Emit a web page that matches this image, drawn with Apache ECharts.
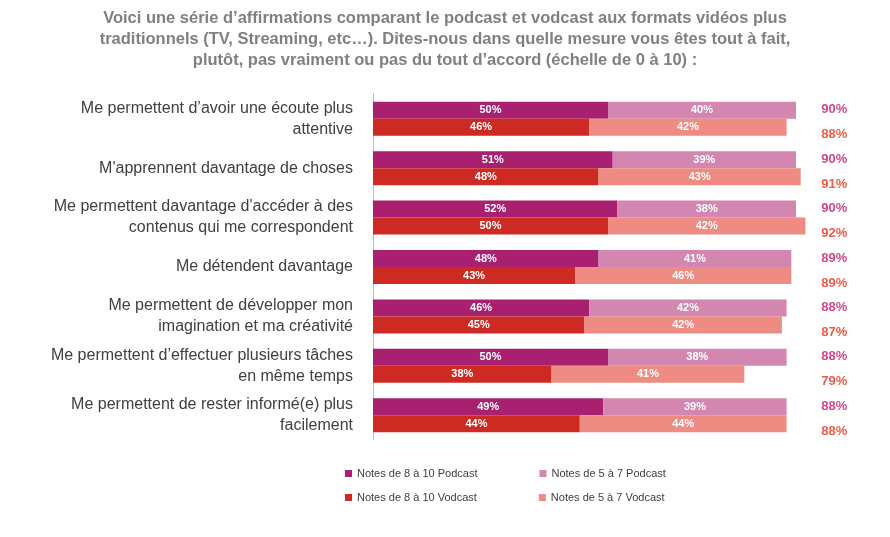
<!DOCTYPE html><html><head><meta charset="utf-8"><script src="https://cdn.jsdelivr.net/npm/echarts@6/dist/echarts.min.js"></script>
<style>body{margin:0}#c{width:890px;height:537px}</style></head><body><div id="c"></div><script>
const categories=["Me permettent d’avoir une écoute plus\nattentive","M'apprennent davantage de choses","Me permettent davantage d'accéder à des\ncontenus qui me correspondent","Me détendent davantage","Me permettent de développer mon\nimagination et ma créativité","Me permettent d’effectuer plusieurs tâches\nen même temps","Me permettent de rester informé(e) plus\nfacilement"];
const pod810=[50,51,52,48,46,50,49];
const pod57=[40,39,38,41,42,38,39];
const vod810=[46,48,50,43,45,38,44];
const vod57=[42,43,42,46,42,41,44];
const podTot=[90,90,90,89,88,88,88];
const vodTot=[88,91,92,89,87,79,88];
const lbl={show:true,color:'#fff',fontWeight:'bold',fontSize:11,formatter:p=>p.value+'%'};
function bar(name,data,stack,color){return {name,type:'bar',stack,data,barWidth:17,barGap:'0%',itemStyle:{color},label:lbl};}
function tot(data,color,off){return {type:'scatter',symbolSize:0,data:data.map((v,i)=>({value:[96,i],t:v})),silent:true,label:{show:true,position:'right',offset:[-8,off],color,fontWeight:'bold',fontSize:13,formatter:p=>p.data.t+'%'}};}
const ch=echarts.init(document.getElementById('c'));
ch.setOption({
title:{text:"Voici une série d’affirmations comparant le podcast et vodcast aux formats vidéos plus\ntraditionnels (TV, Streaming, etc…). Dites-nous dans quelle mesure vous êtes tout à fait,\nplutôt, pas vraiment ou pas du tout d’accord (échelle de 0 à 10) :",left:'center',top:3,textStyle:{color:'#808080',fontSize:16.5,fontWeight:'bold',lineHeight:21,fontFamily:'Liberation Sans'}},
legend:[{data:['Notes de 8 à 10 Podcast','Notes de 5 à 7 Podcast'],icon:'rect',top:463,left:340,itemGap:62,itemWidth:7,itemHeight:7,textStyle:{fontSize:11,color:'#404040'}},
{data:['Notes de 8 à 10 Vodcast','Notes de 5 à 7 Vodcast'],icon:'rect',top:487,left:340,itemGap:62,itemWidth:7,itemHeight:7,textStyle:{fontSize:11,color:'#404040'}}],
grid:{left:373,right:47,top:94,bottom:97},
xAxis:{type:'value',min:0,max:100,show:false},
yAxis:[{type:'category',data:categories,inverse:true,axisTick:{show:false},axisLine:{lineStyle:{color:'#bfbfbf'}},axisLabel:{color:'#404040',fontSize:16,lineHeight:21,margin:20,align:'right',fontFamily:'Liberation Sans'}}],
series:[bar('Notes de 8 à 10 Podcast',pod810,'p','#A8206F'),bar('Notes de 5 à 7 Podcast',pod57,'p','#D386AF'),
bar('Notes de 8 à 10 Vodcast',vod810,'v','#CC2A22'),bar('Notes de 5 à 7 Vodcast',vod57,'v','#EE8B82'),
tot(podTot,'#C2186E',-9),tot(vodTot,'#E8321A',16)]
});
</script></body></html>
